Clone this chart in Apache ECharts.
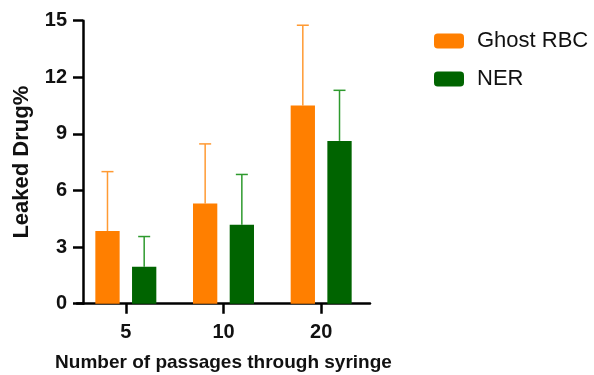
<!DOCTYPE html>
<html><head><meta charset="utf-8">
<script src="https://cdn.jsdelivr.net/npm/echarts@6/dist/echarts.min.js"></script>
<style>html,body{margin:0;padding:0;background:#fff}#c{width:594px;height:375px}</style>
</head><body><div id="c"></div>
<script>
const categories = ['5', '10', '20'];
const ghostMean = [3.85, 5.31, 10.51];
const ghostErr = [3.15, 3.16, 4.25];
const nerMean = [1.96, 4.19, 8.63];
const nerErr = [1.60, 2.66, 2.68];
const yTicks = [0, 3, 6, 9, 12, 15];

const FONT = '"Liberation Sans", Arial, Helvetica, sans-serif';
const BAR_W = 24.3, BAR_GAP = 0.51;
const chart = echarts.init(document.getElementById('c'));

function errSeries(name, means, errs, color, side) {
  return {
    type: 'custom', name: name + ' err', silent: true, z: 1,
    data: means.map((m, i) => [i, m, m + errs[i]]),
    renderItem: function (params, api) {
      const off = side * BAR_W * (1 + BAR_GAP) / 2;
      const p0 = api.coord([api.value(0), api.value(1)]);
      const p1 = api.coord([api.value(0), api.value(2)]);
      const x = p0[0] + off;
      const hw = 6;
      const st = { stroke: color, lineWidth: 1.5 };
      return { type: 'group', children: [
        { type: 'line', shape: { x1: x, y1: p0[1], x2: x, y2: p1[1] }, style: st },
        { type: 'line', shape: { x1: x - hw, y1: p1[1], x2: x + hw, y2: p1[1] }, style: st }
      ]};
    }
  };
}

chart.setOption({
  animation: false,
  textStyle: { fontFamily: FONT },
  grid: { left: 77, right: 224, top: 20.7, bottom: 71.3, containLabel: false, outerBoundsMode: 'none' },
  legend: {
    orient: 'vertical', left: 429, top: 25, itemWidth: 30, itemHeight: 15, itemGap: 16,
    textStyle: { fontSize: 22, color: '#111', fontFamily: FONT, padding: [0, 0, 0, 8] },
    data: ['Ghost RBC', 'NER']
  },
  xAxis: {
    type: 'category', data: categories,
    axisLine: { lineStyle: { color: '#000', width: 2.5 } },
    axisTick: { show: true, alignWithLabel: true, length: 10, lineStyle: { color: '#000', width: 2.5 } },
    axisLabel: { fontSize: 20, fontWeight: 'bold', color: '#111', margin: 19, fontFamily: FONT },
    name: 'Number of passages through syringe', nameLocation: 'middle', nameGap: 50,
    nameTextStyle: { fontSize: 19, fontWeight: 'bold', color: '#111', fontFamily: FONT }
  },
  yAxis: {
    type: 'value', min: 0, max: 15, interval: 3, offset: -6,
    axisLine: { show: true, lineStyle: { color: '#000', width: 2.5 } },
    axisTick: { show: true, length: 10, lineStyle: { color: '#000', width: 2.5 } },
    splitLine: { show: false },
    axisLabel: { fontSize: 20, fontWeight: 'bold', color: '#111', margin: 16, fontFamily: FONT,
      formatter: v => yTicks.includes(v) ? String(v) : '' },
    name: 'Leaked Drug%', nameLocation: 'middle', nameGap: 50,
    nameTextStyle: { fontSize: 22, fontWeight: 'bold', color: '#111', fontFamily: FONT }
  },
  series: [
    { type: 'bar', name: 'Ghost RBC', data: ghostMean, barWidth: BAR_W, barGap: (BAR_GAP * 100) + '%',
      itemStyle: { color: '#FF7F00' }, z: 2 },
    { type: 'bar', name: 'NER', data: nerMean, barWidth: BAR_W, barGap: (BAR_GAP * 100) + '%',
      itemStyle: { color: '#006400' }, z: 2 },
    errSeries('Ghost RBC', ghostMean, ghostErr, '#FF9A33', -1),
    errSeries('NER', nerMean, nerErr, '#2E9A2E', 1)
  ]
});
</script></body></html>
